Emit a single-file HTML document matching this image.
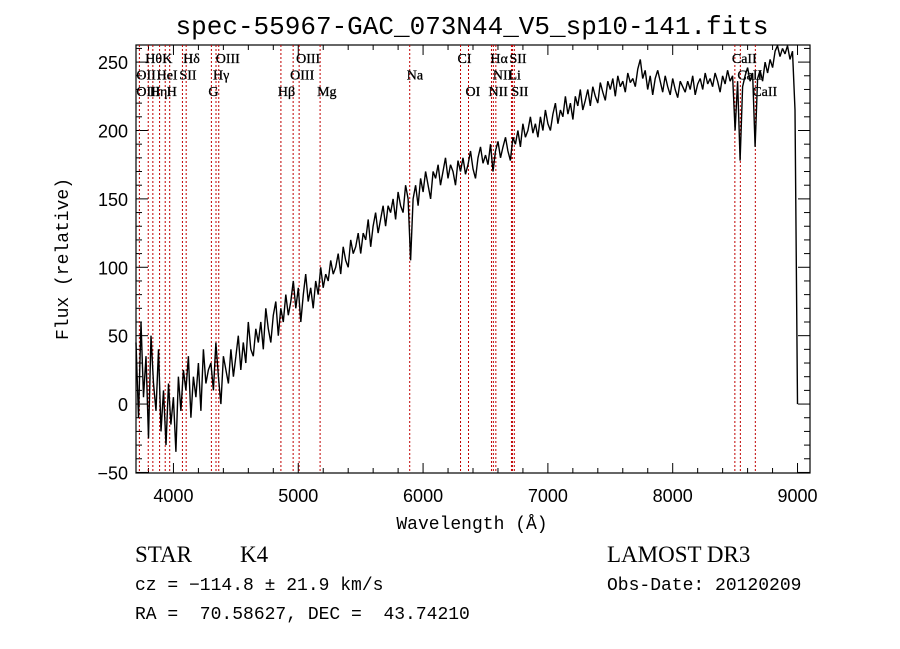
<!DOCTYPE html>
<html><head><meta charset="utf-8">
<style>
body{margin:0;background:#fff;}
svg{display:block;font-family:"Liberation Sans",sans-serif;}
</style></head>
<body>
<svg id="chart" width="900" height="649" viewBox="0 0 900 649">
<text x="472" y="34" text-anchor="middle" font-size="26" font-family="Liberation Mono, monospace">spec-55967-GAC_073N44_V5_sp10-141.fits</text>
<rect x="136" y="45" width="674" height="428" fill="none" stroke="#000" stroke-width="1.2"/>
<g id="ticks"></g>
<g id="lines"></g>
<g id="labels"></g>
<path id="spec" fill="none" stroke="#000" stroke-width="1.4" stroke-linejoin="bevel"/>
<text x="472" y="529" text-anchor="middle" font-size="18" font-family="Liberation Mono, monospace">Wavelength (Å)</text>
<text transform="translate(68,259) rotate(-90)" text-anchor="middle" font-size="18" font-family="Liberation Mono, monospace">Flux (relative)</text>
<text x="135" y="562" font-size="23" font-family="Liberation Serif, serif">STAR</text>
<text x="240" y="562" font-size="23" font-family="Liberation Serif, serif">K4</text>
<text x="607" y="562" font-size="23" font-family="Liberation Serif, serif">LAMOST DR3</text>
<text x="135" y="590" font-size="18" font-family="Liberation Mono, monospace">cz = −114.8 ± 21.9 km/s</text>
<text x="607" y="590" font-size="18" font-family="Liberation Mono, monospace">Obs-Date: 20120209</text>
<text x="135" y="619" font-size="18" font-family="Liberation Mono, monospace" style="white-space:pre" xml:space="preserve">RA =  70.58627, DEC =  43.74210</text>
</svg>
<script>
const waveStart = 3700;
const waveStep = 20;
const flux = [
45,-10,60,5,35,-25,50,15,-5,40,
-20,10,-30,15,-15,5,-35,20,-5,25,
10,35,-10,20,5,30,-5,40,15,25,
30,10,45,20,0,35,25,15,40,20,
35,50,25,45,30,60,40,35,55,45,
60,40,70,55,45,65,75,50,70,60,
80,65,75,90,70,85,60,80,95,75,
85,70,90,80,100,85,95,90,105,95,
100,110,95,115,105,100,120,110,115,125,
110,125,120,135,115,130,140,125,135,145,
130,145,140,150,135,155,145,140,160,150,
105,150,160,145,165,155,170,160,150,170,
165,175,160,170,180,165,175,170,160,178,
170,180,168,175,185,172,165,180,188,176,
182,175,190,170,185,192,180,188,195,185,
178,195,190,200,188,205,195,200,210,198,
205,195,210,200,215,205,200,212,220,205,
215,210,225,212,220,208,225,218,230,215,
222,230,218,232,225,220,235,228,222,236,
230,238,225,240,232,236,228,242,235,238,
232,245,252,238,244,230,240,226,238,244,
236,228,240,232,226,238,230,224,236,232,
228,236,230,240,226,234,238,230,242,234,
238,232,242,236,228,240,234,244,236,240,
200,236,178,232,240,246,236,242,188,238,
244,236,250,242,252,246,258,262,254,260,
256,262,252,258,215,0];
const lineWaves = [3727,3798,3835,3889,3934,3970,4072,4102,4304,4341,4363,4861,4959,5007,5175,5893,6300,6364,6548,6563,6583,6708,6716,6731,8498,8542,8662];
const labelText = ["Hθ","K","Hδ","OIII","OIII","CI","Hα","SII","CaII",
  "OII","HeI","SII","Hγ","OIII","Na","NII","Li","CaII",
  "OIII","Hη","H","G","Hβ","Mg","OI","NII","SII","CaII"];
const labelWave = [3798,3934,4102,4363,5007,6300,6563,6716,8498,
  3727,3889,4072,4341,4959,5893,6583,6708,8542,
  3727,3835,3970,4304,4861,5175,6364,6548,6731,8662];
const labelRow = [0,0,0,0,0,0,0,0,0,1,1,1,1,1,1,1,1,1,2,2,2,2,2,2,2,2,2,2];
const xTicks = [4000,5000,6000,7000,8000,9000];
const yTicks = [-50,0,50,100,150,200,250];

const X0=136,X1=810,Y0=45,Y1=473, WMIN=3700,WMAX=9100,FMIN=-50.4,FMAX=262.5;
const xs = w => X0+(w-WMIN)/(WMAX-WMIN)*(X1-X0);
const ys = f => Y1-(f-FMIN)/(FMAX-FMIN)*(Y1-Y0);
const NS="http://www.w3.org/2000/svg";
function mk(tag,attrs,parent){const e=document.createElementNS(NS,tag);for(const k in attrs)e.setAttribute(k,attrs[k]);parent.appendChild(e);return e;}

const tg=document.getElementById('ticks');
for(let w=3800; w<=9100; w+=200){
  const major = w%1000===0;
  const L = major?10:5;
  const t1=mk('line',{x1:xs(w),x2:xs(w),y1:Y1,y2:Y1-L,stroke:'#000'},tg);
  
  
  const t2=mk('line',{x1:xs(w),x2:xs(w),y1:Y0,y2:Y0+L,stroke:'#000'},tg);
  
  
}
xTicks.forEach(v=>{
  const t=mk('text',{x:xs(v),y:502,'text-anchor':'middle','font-size':18},tg);
  t.textContent=v;
  
  
});
for(let f=-50; f<=260; f+=10){
  const major = f%50===0;
  const L = major?12:6;
  const t1=mk('line',{x1:X0,x2:X0+L,y1:ys(f),y2:ys(f),stroke:'#000'},tg);
  
  
  const t2=mk('line',{x1:X1,x2:X1-L,y1:ys(f),y2:ys(f),stroke:'#000'},tg);
  
  
}
yTicks.forEach(v=>{
  const t=mk('text',{x:128,y:ys(v)+7,'text-anchor':'end','font-size':18},tg);
  t.textContent=v<0?'−'+(-v):v;
  
  
});

const lg=document.getElementById('lines');
lineWaves.forEach(w=>{
  const l=mk('line',{x1:xs(w),x2:xs(w),y1:Y0,y2:Y1,stroke:'#c00000','stroke-width':1,'stroke-dasharray':'2,2'},lg);
  
  
});
const lb=document.getElementById('labels');
labelText.forEach((s,i)=>{
  const t=mk('text',{x:xs(labelWave[i])-3,y:63+labelRow[i]*16.5,'font-size':14,'font-family':'Liberation Serif, serif','stroke':'#000','stroke-width':0.3},lb);
  t.textContent=s;
  
  
});

let d='';
flux.forEach((f,i)=>{const w=waveStart+i*waveStep;d+=(i?'L':'M')+xs(w).toFixed(1)+','+ys(f).toFixed(1);});
document.getElementById('spec').setAttribute('d',d);
</script>
</body></html>
